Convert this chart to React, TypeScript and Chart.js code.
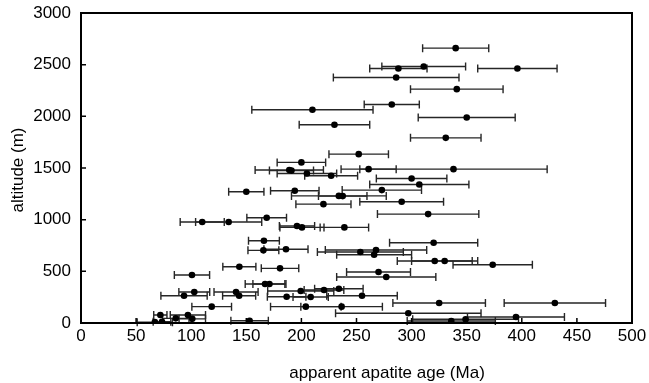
import React, { useEffect, useRef } from "react";
import { Chart, registerables } from "chart.js";

Chart.register(...registerables);

// apparent apatite age (Ma)
const ages = [
  340, 311, 288, 396, 286, 341, 282, 210, 230, 350,
  331, 252, 200, 261, 338, 189, 191, 205, 227, 300,
  307, 273, 194, 150, 234, 237.5, 291, 220, 315, 168.5,
  110, 134, 196, 200.5, 239, 320, 166, 165.5, 186, 253.5,
  267.7, 266, 321, 330, 373.6, 143.7, 180.6, 100.7, 270, 277,
  167, 171, 102.8, 140.7, 93.5, 143.5, 199.4, 220.5, 234, 186.6,
  208.4, 255, 118.6, 204, 236.5, 325, 430, 297, 394.7, 349,
  336, 67, 73.5, 86, 101, 72, 97, 153,
];
// altitude (m)
const altitudes = [
  2660, 2482, 2463, 2463, 2376, 2263, 2115, 2063, 1918, 1989,
  1792, 1634, 1554, 1489, 1489, 1480, 1475, 1447, 1425, 1399,
  1341, 1286, 1280, 1270, 1230, 1228, 1173, 1150, 1054, 1018,
  977, 977, 938, 925, 925, 777, 796, 703, 713, 687,
  706, 661, 600, 600, 564, 545, 529, 464, 493, 445,
  377, 377, 300, 300, 264, 264, 310, 319, 332, 254,
  251, 264, 158, 158, 158, 193, 193, 94, 58, 36,
  19, 8, 12, 45, 40, 77, 77, 22,
];
// age uncertainty (± Ma)
const errors = [
  30, 38, 26, 36, 57, 42, 25, 55, 32, 44,
  32, 27, 22, 25, 85, 31, 20, 27, 24, 32,
  45, 36, 22, 16, 43, 22, 38, 25, 46, 18,
  20, 30, 16, 20, 22, 40, 14, 14, 20, 39,
  46, 34, 34, 30, 36, 15, 17, 16, 29, 45,
  18, 15, 14, 20, 21, 15, 30, 18, 22, 17.5,
  16, 32, 18, 32, 37, 42, 46, 66, 44, 48,
  40, 16, 8, 12, 12, 6, 16, 17,
];
const xTickValues = [0, 50, 100, 150, 200, 250, 300, 350, 400, 450, 500];
const yTickValues = [0, 500, 1000, 1500, 2000, 2500, 3000];
const xTitle = "apparent apatite age (Ma)";
const yTitle = "altitude (m)";

const FONT = "'Liberation Sans', Arial, Helvetica, sans-serif";

export default function App() {
  const ref = useRef<HTMLCanvasElement>(null);

  useEffect(() => {
    if (!ref.current) return;
    const plugin = {
      id: "errorbarsAndFrame",
      beforeDatasetsDraw(chart: any) {
        const { ctx, scales } = chart;
        const x = scales.x;
        const y = scales.y;
        ctx.save();
        ctx.strokeStyle = "#262626";
        ctx.lineWidth = 1.4;
        ages.forEach((age, i) => {
          const py = y.getPixelForValue(altitudes[i]);
          const x1 = x.getPixelForValue(age - errors[i]);
          const x2 = x.getPixelForValue(age + errors[i]);
          ctx.beginPath();
          ctx.moveTo(x1, py);
          ctx.lineTo(x2, py);
          ctx.moveTo(x1, py - 4);
          ctx.lineTo(x1, py + 4);
          ctx.moveTo(x2, py - 4);
          ctx.lineTo(x2, py + 4);
          ctx.stroke();
        });
        ctx.restore();
      },
      afterDraw(chart: any) {
        const { ctx, chartArea: a, scales } = chart;
        const x = scales.x;
        const y = scales.y;
        ctx.save();
        ctx.strokeStyle = "#000";
        ctx.lineWidth = 2;
        ctx.strokeRect(a.left, a.top, a.right - a.left, a.bottom - a.top);
        ctx.lineWidth = 1.5;
        ctx.beginPath();
        xTickValues.forEach((v) => {
          const px = x.getPixelForValue(v);
          ctx.moveTo(px, a.bottom);
          ctx.lineTo(px, a.bottom - 5);
        });
        yTickValues.forEach((v) => {
          const py = y.getPixelForValue(v);
          ctx.moveTo(a.left, py);
          ctx.lineTo(a.left + 5, py);
        });
        ctx.stroke();

        ctx.fillStyle = "#000";
        ctx.font = `17px ${FONT}`;
        ctx.textAlign = "center";
        ctx.textBaseline = "middle";
        ctx.fillText(xTitle, 387, 373);
        ctx.translate(18, 170);
        ctx.rotate(-Math.PI / 2);
        ctx.fillText(yTitle, 0, 0);
        ctx.restore();
      },
    };

    const chart = new Chart(ref.current, {
      type: "scatter",
      data: {
        datasets: [
          {
            label: "samples",
            data: ages.map((a, i) => ({ x: a, y: altitudes[i] })),
            backgroundColor: "#000",
            borderColor: "#000",
            pointRadius: 3.3,
            pointHoverRadius: 3.3,
            borderWidth: 0,
          },
        ],
      },
      options: {
        responsive: false,
        animation: false,
        devicePixelRatio: 1,
        layout: { padding: { top: 13, right: 17, left: 0, bottom: 0 } },
        plugins: {
          legend: { display: false },
          tooltip: { enabled: false },
        },
        scales: {
          x: {
            type: "linear",
            min: 0,
            max: 500,
            afterBuildTicks: (s: any) => {
              s.ticks = xTickValues.map((v) => ({ value: v }));
            },
            afterFit: (s: any) => {
              s.height = 60;
              s.paddingLeft = 0;
              s.paddingRight = 0;
            },
            grid: { display: false, drawTicks: false },
            border: { display: false },
            ticks: {
              padding: 3,
              color: "#000",
              font: { family: FONT, size: 17 },
              maxRotation: 0,
              autoSkip: false,
              callback: (v: any) => String(v),
            },
          },
          y: {
            type: "linear",
            min: 0,
            max: 3000,
            afterBuildTicks: (s: any) => {
              s.ticks = yTickValues.map((v) => ({ value: v }));
            },
            afterFit: (s: any) => {
              s.width = 81;
              s.paddingTop = 0;
              s.paddingBottom = 0;
            },
            grid: { display: false, drawTicks: false },
            border: { display: false },
            ticks: {
              padding: 10,
              color: "#000",
              font: { family: FONT, size: 17 },
              autoSkip: false,
              callback: (v: any) => String(v),
            },
          },
        },
      },
      plugins: [plugin],
    });
    return () => chart.destroy();
  }, []);

  return (
    <canvas
      ref={ref}
      width={649}
      height={383}
      style={{ position: "absolute", left: 0, top: 0, width: 649, height: 383 }}
    />
  );
}
